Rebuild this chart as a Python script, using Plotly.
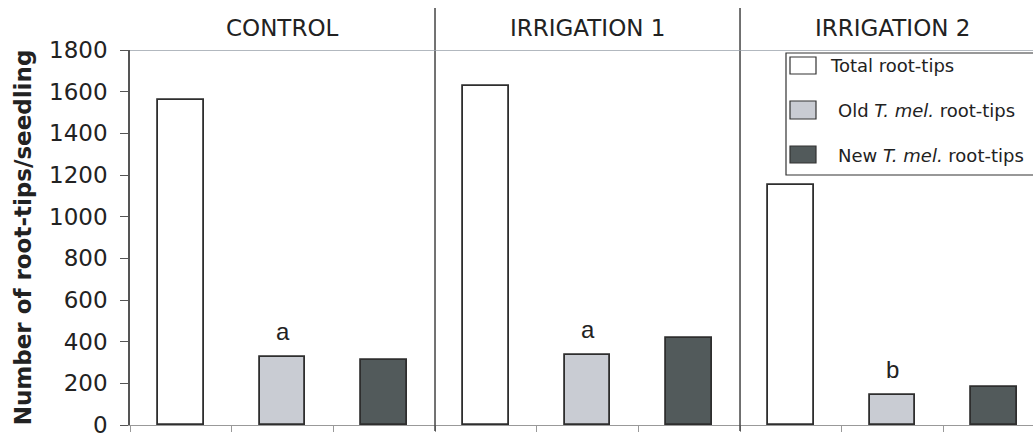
import plotly.graph_objects as go

groups = ["CONTROL", "IRRIGATION 1", "IRRIGATION 2"]
series_names = ["Total root-tips", "Old <i>T. mel.</i> root-tips", "New <i>T. mel.</i> root-tips"]
total_tips = [1560, 1625, 1150]
old_tips = [328, 336, 144]
new_tips = [310, 419, 181]
old_letters = ["a", "a", "b"]
y_ticks = [0, 200, 400, 600, 800, 1000, 1200, 1400, 1600, 1800]

colors = ["#ffffff", "#c9ccd3", "#525a5b"]
values = [total_tips, old_tips, new_tips]

W, H = 1033, 433
L, R, T, B = 130, 0, 50, 8
pw, ph = W - L - R, H - T - B
cat_px = 101.67
xmax = -0.5 + pw / cat_px

def px_x(px):
    return (px - L) / pw

def px_y(py):
    return (H - B - py) / ph

fig = go.Figure()
n_series = len(values)
for si, (vals, col) in enumerate(zip(values, colors)):
    xs = [gi * n_series + si for gi in range(len(groups))]
    fig.add_trace(go.Bar(
        x=xs, y=vals, width=0.45, marker=dict(color=col, line=dict(color="#2e2e2e", width=1.8)),
        name=series_names[si], showlegend=False,
    ))

# significance letters above old bars
for gi, (v, letter) in enumerate(zip(old_tips, old_letters)):
    fig.add_annotation(x=gi * n_series + 1, y=v, yshift=10, yanchor="bottom", text=letter,
                       showarrow=False, font=dict(family="Liberation Sans", size=24, color="#222222"))

# group headers
for gi, g in enumerate(groups):
    fig.add_annotation(x=gi * n_series + 1, xref="x", y=px_y(28), yref="paper", text=g,
                       showarrow=False, yanchor="middle",
                       font=dict(family="DejaVu Sans", size=23, color="#222222"))

# dividers between groups
for gi in range(1, len(groups)):
    xd = gi * n_series - 0.5
    fig.add_shape(type="line", xref="x", yref="paper", x0=xd, x1=xd, y0=px_y(431), y1=px_y(8),
                  line=dict(color="#444444", width=1.5))

# top line at 1800
fig.add_shape(type="line", xref="paper", yref="y", x0=0, x1=1, y0=1800, y1=1800,
              line=dict(color="#98a0aa", width=1.5))

# manual legend
fig.add_shape(type="rect", xref="paper", yref="paper", x0=px_x(786), x1=px_x(1045),
              y0=px_y(175), y1=px_y(53), line=dict(color="#333333", width=1.2), fillcolor="rgba(0,0,0,0)")
sw_y = [(57, 74), (101, 119), (146, 163)]
txt_x = [828, 836, 836]
txt_y = [65, 110, 155]
for i in range(n_series):
    fig.add_shape(type="rect", xref="paper", yref="paper", x0=px_x(790), x1=px_x(816),
                  y0=px_y(sw_y[i][1]), y1=px_y(sw_y[i][0]),
                  line=dict(color="#333333", width=1.2), fillcolor=colors[i])
    fig.add_annotation(xref="paper", yref="paper", x=px_x(txt_x[i]), y=px_y(txt_y[i]),
                       xanchor="left", yanchor="middle", text=series_names[i], showarrow=False,
                       font=dict(family="DejaVu Sans", size=18, color="#222222"))

fig.update_layout(
    width=W, height=H, margin=dict(l=L, r=R, t=T, b=B, autoexpand=False),
    plot_bgcolor="white", paper_bgcolor="white", bargap=0,
    font=dict(family="DejaVu Sans", color="#222222"),
)
fig.update_xaxes(range=[-0.5, xmax], tickvals=[i - 0.5 for i in range(10)], showticklabels=False,
                 ticks="outside", ticklen=6, tickcolor="#999999", showline=True, linecolor="#999999",
                 linewidth=1.2, showgrid=False, zeroline=False, fixedrange=True)
fig.update_yaxes(range=[0, 1800], tickvals=y_ticks, ticks="outside", ticklen=8, tickcolor="#555555",
                 showline=True, linecolor="#555555", linewidth=1.5, showgrid=False, zeroline=False,
                 tickfont=dict(family="DejaVu Sans", size=23, color="#222222"), ticklabelstandoff=8,
                 ticklabeloverflow="allow",
                 title=dict(text="<b>Number of root-tips/seedling</b>", standoff=11,
                            font=dict(family="DejaVu Sans", size=23, color="#222222")),
                 automargin=False)

fig.write_html("out.html", config={"displayModeBar": False},
               post_script="document.body.style.margin='0';document.body.style.overflow='hidden';")
